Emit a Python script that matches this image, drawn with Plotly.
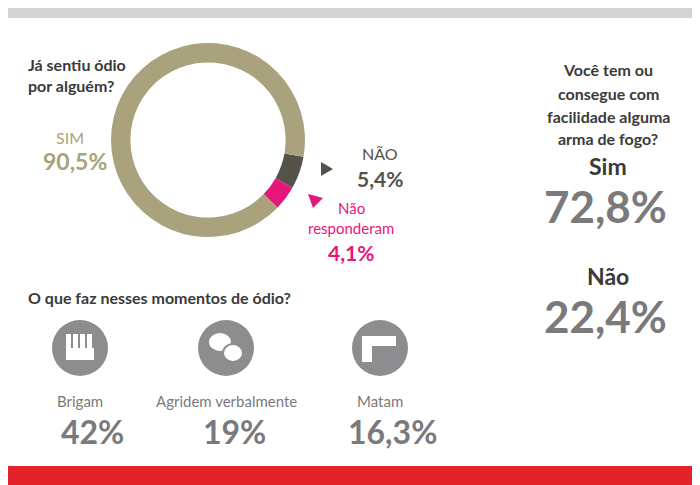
import plotly.graph_objects as go

W, H = 700, 485
labels = ["NÃO", "Não responderam", "SIM"]
values = [5.4, 4.1, 90.5]
colors = ["#55524a", "#e6177a", "#aaa27c"]
actions = ["Brigam", "Agridem verbalmente", "Matam"]
action_vals = ["42%", "19%", "16,3%"]
gun = ["Sim", "Não"]
gun_vals = ["72,8%", "22,4%"]

def px(x): return x / W
def py(y): return 1 - y / H

fig = go.Figure()
fig.add_trace(go.Pie(labels=labels, values=values, hole=0.8, sort=False,
                     direction="clockwise", rotation=100,
                     marker=dict(colors=colors, line=dict(width=0)),
                     textinfo="none", hoverinfo="label+percent",
                     domain=dict(x=[px(103), px(297)], y=[py(229), py(35)])))

F = "Lato"
ann = []
def t(x, y, s, size, color, bold=False, anchor="left"):
    ann.append(dict(x=px(x), y=py(y), xref="paper", yref="paper", text=f"<b>{s}</b>" if bold else s,
                    showarrow=False, xanchor=anchor, yanchor="middle",
                    font=dict(family=F, size=size, color=color)))

dark = "#3a3a3a"; gray = "#7a7a7c"
t(18, 56, "Já sentiu ódio", 16, dark, True)
t(18, 78, "por alguém?", 16, dark, True)
t(62, 130, "SIM", 16, colors[2], anchor="center")
t(67, 153, "90,5%", 23, colors[2], True, "center")
t(372, 145, "NÃO", 16, colors[0], anchor="center")
t(372, 170, "5,4%", 21, colors[0], True, "center")
t(343, 200, "Não", 15, colors[1], anchor="center")
t(343, 220, "responderam", 15, colors[1], anchor="center")
t(343, 244, "4,1%", 21, colors[1], True, "center")
t(18, 289, "O que faz nesses momentos de ódio?", 16, dark, True)

cx = [72, 218, 372]
for i in range(3):
    t(cx[i], 393, actions[i], 15, gray, anchor="center")
    t(cx[i] + (12 if i == 0 else (8 if i == 1 else 12)), 423, action_vals[i], 32, gray, True, "center")

for i, s in enumerate(["Você tem ou", "consegue com", "facilidade alguma", "arma de fogo?"]):
    t(600, 62 + i * 23, s, 16, dark, True, "center")
t(600, 158, gun[0], 23, dark, True, "center")
t(597, 198, gun_vals[0], 44, gray, True, "center")
t(600, 268, gun[1], 23, dark, True, "center")
t(597, 308, gun_vals[1], 44, gray, True, "center")

def tri(pts, color):
    d = "M " + " L ".join(f"{px(a)},{py(b)}" for a, b in pts) + " Z"
    return dict(type="path", xref="paper", yref="paper", path=d, fillcolor=color, line_width=0)

shapes = [
    dict(type="rect", xref="paper", yref="paper", x0=0, x1=1, y0=py(10), y1=1, fillcolor="#d4d4d4", line_width=0),
    dict(type="rect", xref="paper", yref="paper", x0=0, x1=1, y0=0, y1=py(458), fillcolor="#e3232a", line_width=0),
    tri([(111, 141), (122, 134), (122, 148)], colors[2]),
    tri([(325, 161), (313, 154), (313, 168)], colors[0]),
    tri([(300, 186), (315, 190), (305, 200)], colors[1]),
]
for c in cx:
    shapes.append(dict(type="circle", xref="paper", yref="paper", x0=px(c - 28), x1=px(c + 28),
                       y0=py(368), y1=py(312), fillcolor="#8d8d8f", line_width=0))
c = cx[0]
for k in range(4):
    shapes.append(dict(type="rect", xref="paper", yref="paper", x0=px(c - 14 + k * 7), x1=px(c - 9 + k * 7),
                       y0=py(342), y1=py(326), fillcolor="white", line_width=0))
shapes.append(dict(type="rect", xref="paper", yref="paper", x0=px(c - 14), x1=px(c + 14),
                   y0=py(352), y1=py(340), fillcolor="white", line_width=0))
c = cx[1]
shapes.append(dict(type="circle", xref="paper", yref="paper", x0=px(c - 17), x1=px(c + 5),
                   y0=py(343), y1=py(325), fillcolor="white", line_width=0))
shapes.append(dict(type="circle", xref="paper", yref="paper", x0=px(c - 3), x1=px(c + 17),
                   y0=py(354), y1=py(336), fillcolor="white", line=dict(color="#8d8d8f", width=2)))
c = cx[2]
shapes.append(dict(type="rect", xref="paper", yref="paper", x0=px(c - 18), x1=px(c + 16),
                   y0=py(338), y1=py(328), fillcolor="white", line_width=0))
shapes.append(dict(type="rect", xref="paper", yref="paper", x0=px(c - 18), x1=px(c - 8),
                   y0=py(354), y1=py(336), fillcolor="white", line_width=0))

fig.update_layout(width=W, height=H, margin=dict(l=0, r=0, t=0, b=0), showlegend=False,
                  paper_bgcolor="white", plot_bgcolor="white", annotations=ann, shapes=shapes)
fig.write_html("out.html")
